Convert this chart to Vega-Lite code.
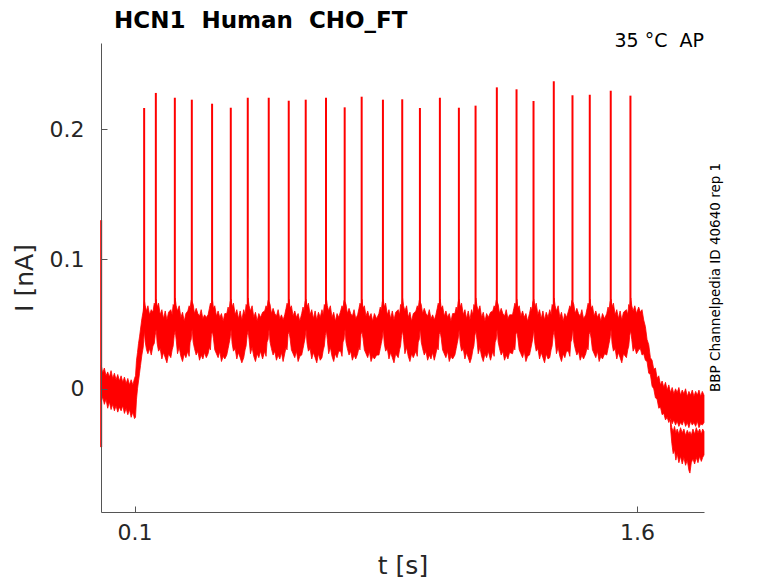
{
  "$schema": "https://vega.github.io/schema/vega-lite/v6.json",
  "description": "HCN1 Human CHO_FT AP current trace",
  "autosize": "none",
  "width": 603,
  "height": 469,
  "padding": {"left": 101, "top": 43, "right": 74, "bottom": 71},
  "background": "white",
  "title": {
    "text": "HCN1\u00a0\u00a0Human\u00a0\u00a0CHO_FT",
    "anchor": "start",
    "frame": "group",
    "dx": 13,
    "dy": 24,
    "offset": 5,
    "baseline": "alphabetic",
    "font": "DejaVu Sans",
    "fontSize": 23,
    "fontWeight": "bold",
    "color": "#000000"
  },
  "datasets": {
    "band": [
      {"t":0.001,"h":0.018,"l":-0.010},{"t":0.005,"h":0.012,"l":-0.006},{"t":0.010,"h":0.016,"l":-0.012},
      {"t":0.015,"h":0.010,"l":-0.008},{"t":0.020,"h":0.013,"l":-0.015},{"t":0.025,"h":0.009,"l":-0.010},
      {"t":0.030,"h":0.014,"l":-0.016},{"t":0.035,"h":0.008,"l":-0.012},{"t":0.040,"h":0.012,"l":-0.017},
      {"t":0.045,"h":0.007,"l":-0.013},{"t":0.050,"h":0.011,"l":-0.018},{"t":0.055,"h":0.006,"l":-0.014},
      {"t":0.060,"h":0.010,"l":-0.017},{"t":0.065,"h":0.005,"l":-0.013},{"t":0.070,"h":0.009,"l":-0.019},
      {"t":0.075,"h":0.004,"l":-0.015},{"t":0.080,"h":0.008,"l":-0.020},{"t":0.085,"h":0.003,"l":-0.016},
      {"t":0.090,"h":0.007,"l":-0.022},{"t":0.095,"h":0.003,"l":-0.018},{"t":0.100,"h":0.008,"l":-0.023},
      {"t":0.103,"h":0.010,"l":-0.022},{"t":0.106,"h":0.022,"l":-0.008},{"t":0.109,"h":0.028,"l":0.000},
      {"t":0.112,"h":0.035,"l":0.006},{"t":0.115,"h":0.040,"l":0.012},{"t":0.118,"h":0.046,"l":0.018},
      {"t":0.122,"h":0.054,"l":0.026},{"t":0.126,"h":0.060,"l":0.032},
      {"t":0.1275,"h":0.064,"l":0.038},{"t":0.1295,"h":0.068,"l":0.045},{"t":0.132,"h":0.064,"l":0.036},
      {"t":0.136,"h":0.060,"l":0.030},{"t":0.140,"h":0.064,"l":0.027},{"t":0.145,"h":0.057,"l":0.031},
      {"t":0.150,"h":0.061,"l":0.026},{"t":0.155,"h":0.059,"l":0.033},{"t":0.159,"h":0.066,"l":0.035},
      {"t":0.1617,"h":0.064,"l":0.041},
      {"t":0.1647,"h":0.069,"l":0.046},{"t":0.1677,"h":0.063,"l":0.035},{"t":0.1717,"h":0.066,"l":0.029},
      {"t":0.1767,"h":0.057,"l":0.031},{"t":0.1817,"h":0.061,"l":0.023},{"t":0.1867,"h":0.054,"l":0.028},
      {"t":0.1917,"h":0.060,"l":0.024},{"t":0.1967,"h":0.053,"l":0.020},{"t":0.2017,"h":0.059,"l":0.027},
      {"t":0.2084,"h":0.061,"l":0.024},{"t":0.2124,"h":0.057,"l":0.030},{"t":0.2154,"h":0.065,"l":0.033},
      {"t":0.2184,"h":0.063,"l":0.041},{"t":0.2214,"h":0.070,"l":0.045},{"t":0.2244,"h":0.064,"l":0.038},
      {"t":0.2284,"h":0.060,"l":0.027},{"t":0.2334,"h":0.064,"l":0.032},{"t":0.2384,"h":0.055,"l":0.025},
      {"t":0.2434,"h":0.059,"l":0.021},{"t":0.2484,"h":0.052,"l":0.027},{"t":0.2534,"h":0.058,"l":0.024},
      {"t":0.2591,"h":0.060,"l":0.029},{"t":0.2631,"h":0.064,"l":0.025},{"t":0.2661,"h":0.062,"l":0.036},
      {"t":0.2691,"h":0.068,"l":0.038},{"t":0.2721,"h":0.067,"l":0.047},{"t":0.2751,"h":0.065,"l":0.036},
      {"t":0.2791,"h":0.058,"l":0.031},{"t":0.2841,"h":0.062,"l":0.026},{"t":0.2891,"h":0.058,"l":0.029},
      {"t":0.2941,"h":0.056,"l":0.022},{"t":0.2991,"h":0.061,"l":0.026},{"t":0.3041,"h":0.054,"l":0.023},
      {"t":0.3091,"h":0.057,"l":0.028},{"t":0.3143,"h":0.055,"l":0.024},
      {"t":0.3196,"h":0.057,"l":0.027},{"t":0.3236,"h":0.062,"l":0.032},{"t":0.3266,"h":0.066,"l":0.030},
      {"t":0.3296,"h":0.064,"l":0.042},{"t":0.3326,"h":0.069,"l":0.044},{"t":0.3356,"h":0.062,"l":0.039},
      {"t":0.3396,"h":0.064,"l":0.030},{"t":0.3446,"h":0.056,"l":0.027},{"t":0.3496,"h":0.060,"l":0.024},
      {"t":0.3546,"h":0.055,"l":0.029},{"t":0.3596,"h":0.058,"l":0.021},{"t":0.3646,"h":0.052,"l":0.025},
      {"t":0.3696,"h":0.058,"l":0.023},
      {"t":0.3754,"h":0.058,"l":0.026},{"t":0.3794,"h":0.063,"l":0.031},{"t":0.3824,"h":0.060,"l":0.035},
      {"t":0.3854,"h":0.067,"l":0.039},{"t":0.3884,"h":0.069,"l":0.046},{"t":0.3914,"h":0.063,"l":0.035},
      {"t":0.3954,"h":0.066,"l":0.029},{"t":0.4004,"h":0.057,"l":0.031},{"t":0.4054,"h":0.061,"l":0.023},
      {"t":0.4104,"h":0.054,"l":0.028},{"t":0.4154,"h":0.060,"l":0.024},{"t":0.4204,"h":0.053,"l":0.020},
      {"t":0.4261,"h":0.061,"l":0.024},{"t":0.4301,"h":0.057,"l":0.030},{"t":0.4331,"h":0.065,"l":0.033},
      {"t":0.4361,"h":0.063,"l":0.041},{"t":0.4391,"h":0.070,"l":0.045},{"t":0.4421,"h":0.064,"l":0.038},
      {"t":0.4461,"h":0.060,"l":0.027},{"t":0.4511,"h":0.064,"l":0.032},{"t":0.4561,"h":0.055,"l":0.025},
      {"t":0.4611,"h":0.059,"l":0.021},{"t":0.4661,"h":0.052,"l":0.027},{"t":0.4711,"h":0.058,"l":0.024},
      {"t":0.4761,"h":0.055,"l":0.029},{"t":0.4824,"h":0.059,"l":0.023},
      {"t":0.4887,"h":0.060,"l":0.029},{"t":0.4927,"h":0.064,"l":0.025},{"t":0.4957,"h":0.062,"l":0.036},
      {"t":0.4987,"h":0.068,"l":0.038},{"t":0.5017,"h":0.067,"l":0.047},{"t":0.5047,"h":0.065,"l":0.036},
      {"t":0.5087,"h":0.058,"l":0.031},{"t":0.5137,"h":0.062,"l":0.026},{"t":0.5187,"h":0.058,"l":0.029},
      {"t":0.5237,"h":0.056,"l":0.022},{"t":0.5287,"h":0.061,"l":0.026},{"t":0.5337,"h":0.054,"l":0.023},
      {"t":0.5387,"h":0.057,"l":0.028},{"t":0.5436,"h":0.053,"l":0.021},
      {"t":0.5484,"h":0.057,"l":0.027},{"t":0.5524,"h":0.062,"l":0.032},{"t":0.5554,"h":0.066,"l":0.030},
      {"t":0.5584,"h":0.064,"l":0.042},{"t":0.5614,"h":0.069,"l":0.044},{"t":0.5644,"h":0.062,"l":0.039},
      {"t":0.5684,"h":0.064,"l":0.030},{"t":0.5734,"h":0.056,"l":0.027},{"t":0.5784,"h":0.060,"l":0.024},
      {"t":0.5834,"h":0.055,"l":0.029},{"t":0.5884,"h":0.058,"l":0.021},{"t":0.5934,"h":0.052,"l":0.025},
      {"t":0.5991,"h":0.058,"l":0.026},{"t":0.6031,"h":0.063,"l":0.031},{"t":0.6061,"h":0.060,"l":0.035},
      {"t":0.6091,"h":0.067,"l":0.039},{"t":0.6121,"h":0.069,"l":0.046},{"t":0.6151,"h":0.063,"l":0.035},
      {"t":0.6191,"h":0.066,"l":0.029},{"t":0.6241,"h":0.057,"l":0.031},{"t":0.6291,"h":0.061,"l":0.023},
      {"t":0.6341,"h":0.054,"l":0.028},{"t":0.6391,"h":0.060,"l":0.024},{"t":0.6441,"h":0.053,"l":0.020},
      {"t":0.6491,"h":0.059,"l":0.027},{"t":0.6544,"h":0.055,"l":0.022},
      {"t":0.6596,"h":0.061,"l":0.024},{"t":0.6636,"h":0.057,"l":0.030},{"t":0.6666,"h":0.065,"l":0.033},
      {"t":0.6696,"h":0.063,"l":0.041},{"t":0.6726,"h":0.070,"l":0.045},{"t":0.6756,"h":0.064,"l":0.038},
      {"t":0.6796,"h":0.060,"l":0.027},{"t":0.6846,"h":0.064,"l":0.032},{"t":0.6896,"h":0.055,"l":0.025},
      {"t":0.6946,"h":0.059,"l":0.021},{"t":0.6996,"h":0.052,"l":0.027},{"t":0.7046,"h":0.058,"l":0.024},
      {"t":0.7096,"h":0.055,"l":0.029},
      {"t":0.7154,"h":0.060,"l":0.029},{"t":0.7194,"h":0.064,"l":0.025},{"t":0.7224,"h":0.062,"l":0.036},
      {"t":0.7254,"h":0.068,"l":0.038},{"t":0.7284,"h":0.067,"l":0.047},{"t":0.7314,"h":0.065,"l":0.036},
      {"t":0.7354,"h":0.058,"l":0.031},{"t":0.7404,"h":0.062,"l":0.026},{"t":0.7454,"h":0.058,"l":0.029},
      {"t":0.7504,"h":0.056,"l":0.022},{"t":0.7554,"h":0.061,"l":0.026},{"t":0.7604,"h":0.054,"l":0.023},
      {"t":0.7661,"h":0.057,"l":0.027},{"t":0.7701,"h":0.062,"l":0.032},{"t":0.7731,"h":0.066,"l":0.030},
      {"t":0.7761,"h":0.064,"l":0.042},{"t":0.7791,"h":0.069,"l":0.044},{"t":0.7821,"h":0.062,"l":0.039},
      {"t":0.7861,"h":0.064,"l":0.030},{"t":0.7911,"h":0.056,"l":0.027},{"t":0.7961,"h":0.060,"l":0.024},
      {"t":0.8011,"h":0.055,"l":0.029},{"t":0.8061,"h":0.058,"l":0.021},{"t":0.8111,"h":0.052,"l":0.025},
      {"t":0.8161,"h":0.058,"l":0.023},{"t":0.8228,"h":0.054,"l":0.026},
      {"t":0.8296,"h":0.058,"l":0.026},{"t":0.8336,"h":0.063,"l":0.031},{"t":0.8366,"h":0.060,"l":0.035},
      {"t":0.8396,"h":0.067,"l":0.039},{"t":0.8426,"h":0.069,"l":0.046},{"t":0.8456,"h":0.063,"l":0.035},
      {"t":0.8496,"h":0.066,"l":0.029},{"t":0.8546,"h":0.057,"l":0.031},{"t":0.8596,"h":0.061,"l":0.023},
      {"t":0.8646,"h":0.054,"l":0.028},{"t":0.8696,"h":0.060,"l":0.024},{"t":0.8746,"h":0.053,"l":0.020},
      {"t":0.8796,"h":0.059,"l":0.027},
      {"t":0.8872,"h":0.061,"l":0.024},{"t":0.8912,"h":0.057,"l":0.030},{"t":0.8942,"h":0.065,"l":0.033},
      {"t":0.8972,"h":0.063,"l":0.041},{"t":0.9002,"h":0.070,"l":0.045},{"t":0.9032,"h":0.064,"l":0.038},
      {"t":0.9072,"h":0.060,"l":0.027},{"t":0.9122,"h":0.064,"l":0.032},{"t":0.9172,"h":0.055,"l":0.025},
      {"t":0.9222,"h":0.059,"l":0.021},{"t":0.9272,"h":0.052,"l":0.027},{"t":0.9322,"h":0.058,"l":0.024},
      {"t":0.9400,"h":0.060,"l":0.029},{"t":0.9440,"h":0.064,"l":0.025},{"t":0.9470,"h":0.062,"l":0.036},
      {"t":0.9500,"h":0.068,"l":0.038},{"t":0.9530,"h":0.067,"l":0.047},{"t":0.9560,"h":0.065,"l":0.036},
      {"t":0.9600,"h":0.058,"l":0.031},{"t":0.9650,"h":0.062,"l":0.026},{"t":0.9700,"h":0.058,"l":0.029},
      {"t":0.9750,"h":0.056,"l":0.022},{"t":0.9800,"h":0.061,"l":0.026},{"t":0.9850,"h":0.054,"l":0.023},
      {"t":0.9900,"h":0.057,"l":0.028},{"t":0.9948,"h":0.053,"l":0.022},
      {"t":0.9996,"h":0.057,"l":0.027},{"t":1.0036,"h":0.062,"l":0.032},{"t":1.0066,"h":0.066,"l":0.030},
      {"t":1.0096,"h":0.064,"l":0.042},{"t":1.0126,"h":0.069,"l":0.044},{"t":1.0156,"h":0.062,"l":0.039},
      {"t":1.0196,"h":0.064,"l":0.030},{"t":1.0246,"h":0.056,"l":0.027},{"t":1.0296,"h":0.060,"l":0.024},
      {"t":1.0346,"h":0.055,"l":0.029},{"t":1.0396,"h":0.058,"l":0.021},{"t":1.0446,"h":0.052,"l":0.025},
      {"t":1.0496,"h":0.058,"l":0.023},
      {"t":1.0563,"h":0.058,"l":0.026},{"t":1.0603,"h":0.063,"l":0.031},{"t":1.0633,"h":0.060,"l":0.035},
      {"t":1.0663,"h":0.067,"l":0.039},{"t":1.0693,"h":0.069,"l":0.046},{"t":1.0723,"h":0.063,"l":0.035},
      {"t":1.0763,"h":0.066,"l":0.029},{"t":1.0813,"h":0.057,"l":0.031},{"t":1.0863,"h":0.061,"l":0.023},
      {"t":1.0913,"h":0.054,"l":0.028},{"t":1.0963,"h":0.060,"l":0.024},{"t":1.1013,"h":0.053,"l":0.020},
      {"t":1.1061,"h":0.061,"l":0.024},{"t":1.1101,"h":0.057,"l":0.030},{"t":1.1131,"h":0.065,"l":0.033},
      {"t":1.1161,"h":0.063,"l":0.041},{"t":1.1191,"h":0.070,"l":0.045},{"t":1.1221,"h":0.064,"l":0.038},
      {"t":1.1261,"h":0.060,"l":0.027},{"t":1.1311,"h":0.064,"l":0.032},{"t":1.1361,"h":0.055,"l":0.025},
      {"t":1.1411,"h":0.059,"l":0.021},{"t":1.1461,"h":0.052,"l":0.027},{"t":1.1511,"h":0.058,"l":0.024},
      {"t":1.1561,"h":0.055,"l":0.029},{"t":1.1628,"h":0.059,"l":0.022},
      {"t":1.1696,"h":0.060,"l":0.029},{"t":1.1736,"h":0.064,"l":0.025},{"t":1.1766,"h":0.062,"l":0.036},
      {"t":1.1796,"h":0.068,"l":0.038},{"t":1.1826,"h":0.067,"l":0.047},{"t":1.1856,"h":0.065,"l":0.036},
      {"t":1.1896,"h":0.058,"l":0.031},{"t":1.1946,"h":0.062,"l":0.026},{"t":1.1996,"h":0.058,"l":0.029},
      {"t":1.2046,"h":0.056,"l":0.022},{"t":1.2096,"h":0.061,"l":0.026},{"t":1.2146,"h":0.054,"l":0.023},
      {"t":1.2196,"h":0.057,"l":0.028},
      {"t":1.2284,"h":0.057,"l":0.027},{"t":1.2324,"h":0.062,"l":0.032},{"t":1.2354,"h":0.066,"l":0.030},
      {"t":1.2384,"h":0.064,"l":0.042},{"t":1.2414,"h":0.069,"l":0.044},{"t":1.2444,"h":0.062,"l":0.039},
      {"t":1.2484,"h":0.064,"l":0.030},{"t":1.2534,"h":0.056,"l":0.027},{"t":1.2584,"h":0.060,"l":0.024},
      {"t":1.2634,"h":0.055,"l":0.029},{"t":1.2684,"h":0.058,"l":0.021},{"t":1.2734,"h":0.052,"l":0.025},
      {"t":1.2791,"h":0.058,"l":0.026},{"t":1.2831,"h":0.063,"l":0.031},{"t":1.2861,"h":0.060,"l":0.035},
      {"t":1.2891,"h":0.067,"l":0.039},{"t":1.2921,"h":0.069,"l":0.046},{"t":1.2951,"h":0.063,"l":0.035},
      {"t":1.2991,"h":0.066,"l":0.029},{"t":1.3041,"h":0.057,"l":0.031},{"t":1.3091,"h":0.061,"l":0.023},
      {"t":1.3141,"h":0.054,"l":0.028},{"t":1.3191,"h":0.060,"l":0.024},{"t":1.3241,"h":0.053,"l":0.020},
      {"t":1.3291,"h":0.059,"l":0.027},{"t":1.3344,"h":0.055,"l":0.023},
      {"t":1.3396,"h":0.061,"l":0.024},{"t":1.3436,"h":0.057,"l":0.030},{"t":1.3466,"h":0.065,"l":0.033},
      {"t":1.3496,"h":0.063,"l":0.041},{"t":1.3526,"h":0.070,"l":0.045},{"t":1.3556,"h":0.064,"l":0.038},
      {"t":1.3596,"h":0.060,"l":0.027},{"t":1.3646,"h":0.064,"l":0.032},{"t":1.3696,"h":0.055,"l":0.025},
      {"t":1.3746,"h":0.059,"l":0.021},{"t":1.3796,"h":0.052,"l":0.027},{"t":1.3846,"h":0.058,"l":0.024},
      {"t":1.3896,"h":0.055,"l":0.029},
      {"t":1.3954,"h":0.060,"l":0.029},{"t":1.3994,"h":0.064,"l":0.025},{"t":1.4024,"h":0.062,"l":0.036},
      {"t":1.4054,"h":0.068,"l":0.038},{"t":1.4084,"h":0.067,"l":0.047},{"t":1.4114,"h":0.065,"l":0.036},
      {"t":1.4154,"h":0.058,"l":0.031},{"t":1.4204,"h":0.062,"l":0.026},{"t":1.4254,"h":0.058,"l":0.029},
      {"t":1.4304,"h":0.056,"l":0.022},{"t":1.4354,"h":0.061,"l":0.026},{"t":1.4404,"h":0.054,"l":0.023},
      {"t":1.4470,"h":0.057,"l":0.027},{"t":1.4510,"h":0.062,"l":0.032},{"t":1.4540,"h":0.066,"l":0.030},
      {"t":1.4570,"h":0.064,"l":0.042},{"t":1.4600,"h":0.069,"l":0.044},{"t":1.4630,"h":0.062,"l":0.039},
      {"t":1.4670,"h":0.064,"l":0.030},{"t":1.4720,"h":0.056,"l":0.027},{"t":1.4770,"h":0.060,"l":0.024},
      {"t":1.4820,"h":0.055,"l":0.029},{"t":1.4870,"h":0.058,"l":0.021},{"t":1.4920,"h":0.052,"l":0.025},
      {"t":1.4970,"h":0.058,"l":0.023},{"t":1.5033,"h":0.054,"l":0.027},
      {"t":1.5096,"h":0.058,"l":0.026},{"t":1.5136,"h":0.063,"l":0.031},{"t":1.5166,"h":0.060,"l":0.035},
      {"t":1.5196,"h":0.067,"l":0.039},{"t":1.5226,"h":0.069,"l":0.046},{"t":1.5256,"h":0.063,"l":0.035},
      {"t":1.5296,"h":0.066,"l":0.029},{"t":1.5346,"h":0.057,"l":0.031},{"t":1.5396,"h":0.061,"l":0.023},
      {"t":1.5446,"h":0.054,"l":0.028},{"t":1.5496,"h":0.060,"l":0.024},{"t":1.5546,"h":0.053,"l":0.020},
      {"t":1.5596,"h":0.059,"l":0.027},
      {"t":1.5684,"h":0.061,"l":0.024},{"t":1.5724,"h":0.057,"l":0.030},{"t":1.5754,"h":0.065,"l":0.033},
      {"t":1.5784,"h":0.063,"l":0.041},{"t":1.5814,"h":0.070,"l":0.045},{"t":1.5844,"h":0.064,"l":0.038},
      {"t":1.5884,"h":0.060,"l":0.029},{"t":1.5934,"h":0.064,"l":0.032},{"t":1.5984,"h":0.058,"l":0.027},
      {"t":1.605,"h":0.063,"l":0.030},{"t":1.610,"h":0.059,"l":0.031},{"t":1.615,"h":0.061,"l":0.026},
      {"t":1.620,"h":0.053,"l":0.027},{"t":1.625,"h":0.048,"l":0.022},{"t":1.630,"h":0.038,"l":0.021},
      {"t":1.635,"h":0.034,"l":0.012},{"t":1.640,"h":0.024,"l":0.011},{"t":1.645,"h":0.022,"l":0.002},
      {"t":1.650,"h":0.015,"l":0.000},{"t":1.655,"h":0.016,"l":-0.007},{"t":1.660,"h":0.008,"l":-0.008},
      {"t":1.665,"h":0.010,"l":-0.015},{"t":1.670,"h":0.003,"l":-0.014},{"t":1.675,"h":0.006,"l":-0.020},
      {"t":1.680,"h":0.001,"l":-0.019},{"t":1.685,"h":0.005,"l":-0.024},{"t":1.690,"h":-0.001,"l":-0.022},
      {"t":1.695,"h":0.003,"l":-0.026},{"t":1.700,"h":-0.003,"l":-0.023},{"t":1.705,"h":0.001,"l":-0.027},
      {"t":1.710,"h":-0.004,"l":-0.024},{"t":1.715,"h":0.000,"l":-0.028},{"t":1.720,"h":-0.003,"l":-0.025},
      {"t":1.725,"h":0.001,"l":-0.029},{"t":1.730,"h":-0.005,"l":-0.026},{"t":1.735,"h":-0.001,"l":-0.028},
      {"t":1.740,"h":-0.004,"l":-0.024},{"t":1.745,"h":0.000,"l":-0.029},{"t":1.750,"h":-0.006,"l":-0.026},
      {"t":1.755,"h":-0.002,"l":-0.030},{"t":1.760,"h":-0.005,"l":-0.025},{"t":1.765,"h":-0.001,"l":-0.028},
      {"t":1.770,"h":-0.006,"l":-0.026},{"t":1.775,"h":-0.002,"l":-0.029},{"t":1.780,"h":-0.005,"l":-0.025},
      {"t":1.785,"h":-0.001,"l":-0.030},{"t":1.790,"h":-0.006,"l":-0.027},{"t":1.795,"h":-0.002,"l":-0.028},
      {"t":1.800,"h":-0.005,"l":-0.026}
    ],
    "band2": [
      {"t":1.700,"h":-0.024,"l":-0.030},{"t":1.704,"h":-0.030,"l":-0.042},{"t":1.708,"h":-0.033,"l":-0.050},
      {"t":1.712,"h":-0.029,"l":-0.047},{"t":1.716,"h":-0.034,"l":-0.055},{"t":1.720,"h":-0.031,"l":-0.050},
      {"t":1.725,"h":-0.035,"l":-0.057},{"t":1.730,"h":-0.030,"l":-0.052},{"t":1.735,"h":-0.034,"l":-0.058},
      {"t":1.740,"h":-0.031,"l":-0.053},{"t":1.745,"h":-0.036,"l":-0.059},{"t":1.750,"h":-0.032,"l":-0.055},
      {"t":1.755,"h":-0.035,"l":-0.063},{"t":1.758,"h":-0.033,"l":-0.065},{"t":1.762,"h":-0.036,"l":-0.057},
      {"t":1.767,"h":-0.031,"l":-0.054},{"t":1.772,"h":-0.035,"l":-0.058},{"t":1.777,"h":-0.030,"l":-0.053},
      {"t":1.782,"h":-0.034,"l":-0.057},{"t":1.787,"h":-0.031,"l":-0.052},{"t":1.792,"h":-0.035,"l":-0.056},
      {"t":1.796,"h":-0.031,"l":-0.053},{"t":1.800,"h":-0.033,"l":-0.051}
    ],
    "spikes": [
      {"t":0.0005,"base":-0.045,"peak":0.130},
      {"t":0.1288,"base":0.045,"peak":0.2165},{"t":0.1637,"base":0.045,"peak":0.2281},
      {"t":0.2204,"base":0.045,"peak":0.2244},{"t":0.2711,"base":0.045,"peak":0.2229},
      {"t":0.3316,"base":0.045,"peak":0.2198},{"t":0.3874,"base":0.045,"peak":0.2167},
      {"t":0.4381,"base":0.045,"peak":0.2244},{"t":0.5007,"base":0.045,"peak":0.2244},
      {"t":0.5604,"base":0.045,"peak":0.2221},{"t":0.6111,"base":0.045,"peak":0.2229},
      {"t":0.6716,"base":0.045,"peak":0.2244},{"t":0.7274,"base":0.045,"peak":0.2170},
      {"t":0.7781,"base":0.045,"peak":0.2252},{"t":0.8416,"base":0.045,"peak":0.2229},
      {"t":0.8992,"base":0.045,"peak":0.2232},{"t":0.9520,"base":0.045,"peak":0.2165},
      {"t":1.0116,"base":0.045,"peak":0.2244},{"t":1.0683,"base":0.045,"peak":0.2167},
      {"t":1.1181,"base":0.045,"peak":0.2183},{"t":1.1816,"base":0.045,"peak":0.2324},
      {"t":1.2404,"base":0.045,"peak":0.2309},{"t":1.2911,"base":0.045,"peak":0.2219},
      {"t":1.3516,"base":0.045,"peak":0.2371},{"t":1.4074,"base":0.045,"peak":0.2263},
      {"t":1.4590,"base":0.045,"peak":0.2267},{"t":1.5216,"base":0.045,"peak":0.2298},
      {"t":1.5804,"base":0.045,"peak":0.2260}
    ]
  },
  "layer": [
    {
      "data": {"name": "band"},
      "mark": {"type": "area", "color": "#ff0000", "stroke": "#ff0000", "strokeWidth": 0.8},
      "encoding": {
        "x": {
          "field": "t",
          "type": "quantitative",
          "scale": {"domain": [0, 1.8], "nice": false, "zero": false},
          "axis": {
            "values": [0.1, 1.6],
            "format": ".1f",
            "title": "t [s]",
            "grid": false,
            "zindex": 1,
            "domainColor": "#555555",
            "tickColor": "#555555",
            "tickSize": -6,
            "labelPadding": 16,
            "labelFont": "DejaVu Sans",
            "labelFontSize": 22,
            "labelColor": "#262626",
            "titleFont": "DejaVu Sans",
            "titleFontSize": 25,
            "titleFontWeight": "normal",
            "titleColor": "#262626",
            "titlePadding": 10
          }
        },
        "y": {
          "field": "h",
          "type": "quantitative",
          "scale": {"domain": [-0.095, 0.2666], "nice": false, "zero": false},
          "axis": {
            "values": [0, 0.1, 0.2],
            "format": "~g",
            "title": "I [nA]",
            "grid": false,
            "zindex": 1,
            "domainColor": "#555555",
            "tickColor": "#555555",
            "tickSize": -6,
            "labelPadding": 23,
            "labelFont": "DejaVu Sans",
            "labelFontSize": 22,
            "labelColor": "#262626",
            "titleFont": "DejaVu Sans",
            "titleFontSize": 25,
            "titleFontWeight": "normal",
            "titleColor": "#262626",
            "titlePadding": 12
          }
        },
        "y2": {"field": "l"}
      }
    },
    {
      "data": {"name": "band2"},
      "mark": {"type": "area", "color": "#ff0000", "stroke": "#ff0000", "strokeWidth": 0.8},
      "encoding": {
        "x": {"field": "t", "type": "quantitative"},
        "y": {"field": "h", "type": "quantitative"},
        "y2": {"field": "l"}
      }
    },
    {
      "data": {"name": "spikes"},
      "mark": {"type": "rule", "color": "#ff0000", "strokeWidth": 2},
      "encoding": {
        "x": {"field": "t", "type": "quantitative"},
        "y": {"field": "base", "type": "quantitative"},
        "y2": {"field": "peak"}
      }
    },
    {
      "data": {"values": [{"t": 1.8, "v": 0.2633, "label": "35 °C\u00a0\u00a0AP"}]},
      "mark": {"type": "text", "align": "right", "baseline": "alphabetic", "font": "DejaVu Sans", "fontSize": 19, "color": "#000000"},
      "encoding": {
        "x": {"field": "t", "type": "quantitative"},
        "y": {"field": "v", "type": "quantitative"},
        "text": {"field": "label"}
      }
    },
    {
      "data": {"values": [{"t": 1.8364, "v": 0.0859, "label": "BBP Channelpedia ID 40640 rep 1"}]},
      "mark": {"type": "text", "angle": 270, "align": "center", "baseline": "middle", "font": "DejaVu Sans", "fontSize": 13.5, "color": "#000000"},
      "encoding": {
        "x": {"field": "t", "type": "quantitative"},
        "y": {"field": "v", "type": "quantitative"},
        "text": {"field": "label"}
      }
    }
  ],
  "config": {
    "view": {"stroke": null}
  }
}
